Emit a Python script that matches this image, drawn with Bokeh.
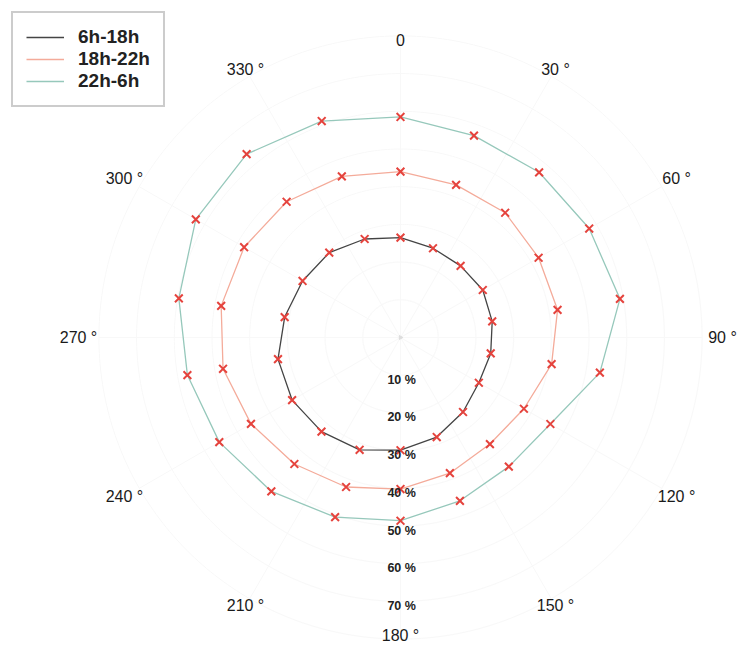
import numpy as np
from bokeh.plotting import figure
from bokeh.models import ColumnDataSource, Legend, LegendItem
from bokeh.embed import file_html
from bokeh.resources import INLINE
from bokeh.core.properties import value

# ---- data (percent, angle in degrees clockwise from north) ----
angles_deg = [0, 20, 40, 60, 80, 100, 120, 140, 160, 180, 200, 220, 240, 260, 280, 300, 320, 340]
day_6h_18h = [26.5, 25.2, 24.8, 25.2, 24.7, 24.3, 24.0, 25.8, 28.1, 29.9, 31.7, 32.6, 33.2, 33.0, 31.2, 30.0, 29.4, 27.8]
eve_18h_22h = [44.0, 43.1, 43.2, 42.3, 42.3, 40.7, 37.8, 36.9, 38.3, 40.2, 42.2, 43.8, 45.8, 47.8, 48.3, 47.9, 47.0, 45.5]
night_22h_6h = [58.5, 57.0, 57.2, 57.8, 59.1, 53.7, 45.9, 44.7, 46.1, 48.6, 50.7, 53.3, 55.5, 57.4, 59.7, 62.7, 63.5, 61.1]
series_names = ["6h-18h", "18h-22h", "22h-6h"]
series_values = [day_6h_18h, eve_18h_22h, night_22h_6h]
series_line_colors = ["#444444", "#f4ab9a", "#96c8bb"]
radial_ticks = [10, 20, 30, 40, 50, 60, 70]
radial_tick_labels = ["10 %", "20 %", "30 %", "40 %", "50 %", "60 %", "70 %"]
angle_ticks = [0, 30, 60, 90, 120, 150, 180, 210, 240, 270, 300, 330]
angle_tick_labels = ["0", "30 °", "60 °", "90 °", "120 °", "150 °", "180 °", "210 °", "240 °", "270 °", "300 °", "330 °"]

W, H = 741, 654
scale = 3.77          # px per percent
cx_px, cy_px = 400, 337  # center in figure pixels from top-left
x0 = -cx_px / scale
x1 = (W - cx_px) / scale
y1 = cy_px / scale
y0 = -(H - cy_px) / scale

p = figure(width=W, height=H, x_range=(x0, x1), y_range=(y0, y1),
           output_backend="svg", toolbar_location=None, min_border=0,
           match_aspect=False)
p.axis.visible = False
p.grid.visible = False
p.outline_line_color = None
p.background_fill_color = "white"

def xy(r, deg):
    t = np.deg2rad(np.asarray(deg, dtype=float))
    r = np.asarray(r, dtype=float)
    return r * np.sin(t), r * np.cos(t)

# very faint grid
for rr in radial_ticks + [80]:
    tt = np.linspace(0, 360, 361)
    gx, gy = xy(np.full_like(tt, rr), tt)
    p.line(gx, gy, line_color="#f8f8f8", line_width=1)
for a in angle_ticks:
    sx, sy = xy([0, 80], [a, a])
    p.line(sx, sy, line_color="#f8f8f8", line_width=1)
p.scatter([0], [0], marker="triangle", size=4, color="#dddddd", angle=-np.pi/2)

# series
items = []
for name, vals, col in zip(series_names, series_values, series_line_colors):
    a = angles_deg + [angles_deg[0]]
    v = vals + [vals[0]]
    lx, ly = xy(v, a)
    r = p.line(lx, ly, line_color=col, line_width=1.3)
    items.append(LegendItem(label=name, renderers=[r]))
for vals in series_values:
    mx, my = xy(vals, angles_deg)
    p.scatter(mx, my, marker="x", size=11, line_color="#e5433d", line_width=2)

# radial labels
src_r = ColumnDataSource(dict(x=[0.3] * len(radial_ticks), y=[-v - 1.2 for v in radial_ticks], t=radial_tick_labels))
p.text("x", "y", text="t", source=src_r, text_font=value("Liberation Sans"),
       text_font_style="bold", text_font_size="12.5px", text_color="#222222",
       text_align="center", text_baseline="middle")

# angle labels (centered, radius grows a little at the sides for wider texts)
axs, ays = [], []
for a in angle_ticks:
    s = abs(np.sin(np.deg2rad(a)))
    lab_r = (298 + 24 * s) / scale
    tx, ty = xy(lab_r, a)
    axs.append(float(tx)); ays.append(float(ty))
src_a = ColumnDataSource(dict(x=axs, y=ays, t=angle_tick_labels))
p.text("x", "y", text="t", source=src_a, text_font=value("Liberation Sans"),
       text_font_size="16px", text_color="#1a1a1a",
       text_align="center", text_baseline="middle")

legend = Legend(items=items, location="top_left")
legend.label_text_font = "Liberation Sans"
legend.label_text_font_style = "bold"
legend.label_text_font_size = "19px"
legend.label_text_color = "#222222"
legend.border_line_color = "#9a9a9a"
legend.border_line_width = 2
legend.glyph_width = 38
legend.glyph_height = 20
legend.label_height = 20
legend.label_standoff = 14
legend.spacing = 0
legend.padding = 13
legend.margin = 11
legend.background_fill_alpha = 1
p.add_layout(legend)

open("out.html", "w").write(file_html(p, INLINE))
